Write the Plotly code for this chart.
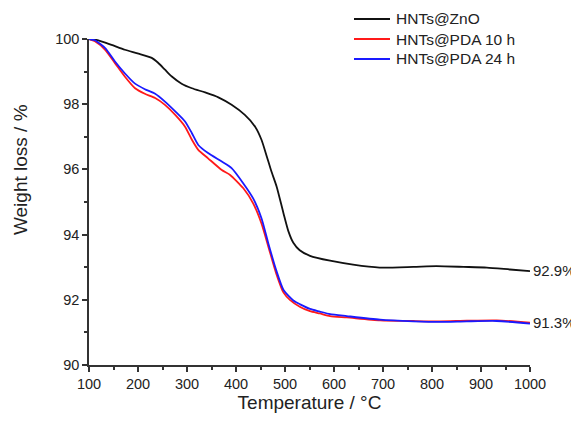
import plotly.graph_objects as go

# Temperature (°C) and weight (%)
t_zno = [100, 119, 146, 173, 201, 228, 241, 255, 269, 289, 310, 337, 364, 391, 418, 439, 452, 463, 472,
         483, 497, 507, 517, 530, 551, 592, 639, 693, 762, 809, 864, 912, 959, 1000]
w_zno = [100.0, 99.96, 99.82, 99.67, 99.55, 99.42, 99.27, 99.06, 98.85, 98.63, 98.49, 98.36, 98.21, 97.98,
         97.67, 97.31, 96.91, 96.39, 95.95, 95.47, 94.65, 94.1, 93.75, 93.52, 93.35, 93.2, 93.08, 92.99,
         93.01, 93.03, 93.01, 92.99, 92.93, 92.88]

t_pda10 = [100, 112, 133, 153, 173, 194, 214, 235, 255, 276, 296, 310, 323, 343, 371, 388, 415, 435, 452,
           466, 482, 497, 510, 531, 551, 571, 592, 626, 694, 762, 816, 871, 932, 1000]
w_pda10 = [100.0, 99.93, 99.67, 99.26, 98.85, 98.49, 98.32, 98.19, 97.98, 97.67, 97.31, 96.91, 96.6, 96.34,
           95.98, 95.83, 95.42, 94.96, 94.34, 93.63, 92.81, 92.22, 92.0, 91.78, 91.65, 91.58, 91.5, 91.46,
           91.37, 91.35, 91.34, 91.36, 91.37, 91.3]

t_pda24 = [100, 112, 133, 153, 173, 194, 214, 235, 255, 276, 296, 310, 323, 343, 371, 391, 415, 435, 452,
           466, 482, 497, 517, 531, 551, 571, 592, 626, 694, 762, 816, 871, 932, 1000]
w_pda24 = [100.0, 99.96, 99.72, 99.31, 98.95, 98.63, 98.46, 98.32, 98.08, 97.78, 97.47, 97.11, 96.75, 96.5,
           96.24, 96.04, 95.57, 95.11, 94.5, 93.73, 92.91, 92.3, 91.98, 91.86, 91.72, 91.64, 91.56, 91.5,
           91.39, 91.34, 91.32, 91.34, 91.35, 91.27]

series_names = ["HNTs@ZnO", "HNTs@PDA 10 h", "HNTs@PDA 24 h"]
series_colors = ["#111111", "#ff1a1a", "#1a1aff"]
end_labels = ["92.9%", "91.3%"]
end_values = [92.9, 91.3]
x_ticks = [100, 200, 300, 400, 500, 600, 700, 800, 900, 1000]
y_ticks = [90, 92, 94, 96, 98, 100]

FONT = "Arial, Liberation Sans, sans-serif"

fig = go.Figure()
for t, w, name, col in zip([t_zno, t_pda10, t_pda24], [w_zno, w_pda10, w_pda24], series_names, series_colors):
    fig.add_trace(go.Scatter(x=t, y=w, mode="lines", name=name, showlegend=False,
                             line=dict(color=col, width=1.8, shape="spline", smoothing=0.6)))

# legend drawn above the plot area (paper coordinates: plot spans 441 x 326 px)
def px_x(p):
    return (p - 89) / 441

def px_y(p):
    return (365 - p) / 326

for i, (name, col) in enumerate(zip(series_names, series_colors)):
    yy = px_y(19 + 20 * i)
    fig.add_shape(type="line", xref="paper", yref="paper", x0=px_x(354), x1=px_x(390), y0=yy, y1=yy,
                  line=dict(color=col, width=2))
    fig.add_annotation(x=px_x(394), y=yy, xref="paper", yref="paper", text=name, showarrow=False,
                       xanchor="left", yanchor="middle",
                       font=dict(family=FONT, size=15.5, color="#222"))

for lab, v in zip(end_labels, end_values):
    fig.add_annotation(x=1000, y=v, xref="x", yref="y", text=lab, showarrow=False,
                       xanchor="left", yanchor="middle", xshift=1,
                       font=dict(family=FONT, size=15, color="#222"))

fig.add_annotation(x=-0.155, y=0.6, xref="paper", yref="paper", text="Weight loss / %",
                   showarrow=False, textangle=-90, xanchor="center", yanchor="middle",
                   font=dict(family=FONT, size=19, color="#222"))

axis_common = dict(showline=True, linecolor="#333", linewidth=1.5, ticks="outside", ticklen=5,
                   tickwidth=1.5, tickcolor="#333", showgrid=False, zeroline=False, mirror=False,
                   tickfont=dict(family=FONT, size=14.5, color="#222"))

fig.update_xaxes(range=[100, 1000], tickvals=x_ticks, ticktext=[str(v) for v in x_ticks],
                 minor=dict(dtick=50, tick0=50, ticks="outside", ticklen=3, tickwidth=1.5, tickcolor="#333"),
                 title=dict(text="Temperature / °C", font=dict(family=FONT, size=19, color="#222"), standoff=5),
                 automargin=False, **axis_common)
fig.update_yaxes(range=[90, 100], tickvals=y_ticks, ticktext=[str(v) for v in y_ticks],
                 minor=dict(dtick=1, tick0=91, ticks="outside", ticklen=3, tickwidth=1.5, tickcolor="#333"),
                 automargin=False, **axis_common)

# the page body adds an 8 px margin, so the figure is 8 px smaller and shifted
fig.update_layout(
    width=571, height=413,
    margin=dict(l=81, r=49, t=31, b=56, autoexpand=False),
    paper_bgcolor="white", plot_bgcolor="white",
    showlegend=False,
    font=dict(family=FONT),
)

fig.write_html("out.html")
